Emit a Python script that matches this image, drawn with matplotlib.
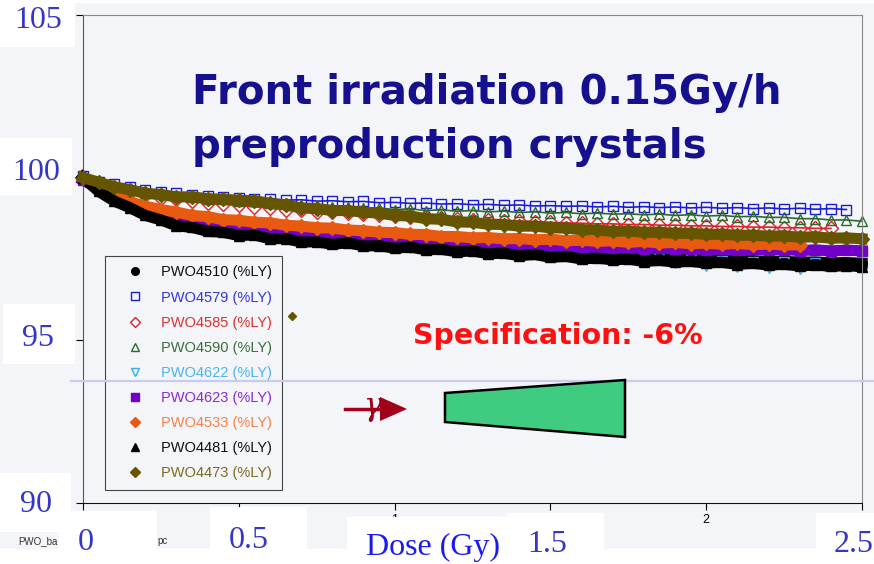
import matplotlib
matplotlib.use("Agg")
import matplotlib.pyplot as plt
from matplotlib.lines import Line2D
from matplotlib.patches import Rectangle, Polygon

# measured light yield (% of initial) vs accumulated dose, front irradiation 0.15 Gy/h
dose = [0.00, 0.05, 0.10, 0.15, 0.20, 0.25, 0.30, 0.35, 0.40, 0.45,
        0.50, 0.55, 0.60, 0.65, 0.70, 0.75, 0.80, 0.85, 0.90, 0.95,
        1.00, 1.05, 1.10, 1.15, 1.20, 1.25, 1.30, 1.35, 1.40, 1.45,
        1.50, 1.55, 1.60, 1.65, 1.70, 1.75, 1.80, 1.85, 1.90, 1.95,
        2.00, 2.05, 2.10, 2.15, 2.20, 2.25, 2.30, 2.35, 2.40, 2.45,
        2.50]

ly_4510 = [100.02, 99.62, 99.33, 99.12, 98.90, 98.76, 98.60, 98.53, 98.43, 98.38,
           98.30, 98.28, 98.20, 98.18, 98.10, 98.09, 98.03, 98.04, 97.97, 97.98,
           97.92, 97.92, 97.86, 97.87, 97.81, 97.82, 97.76, 97.76, 97.71, 97.71,
           97.66, 97.66, 97.61, 97.62, 97.57, 97.58, 97.53, 97.54, 97.50, 97.51,
           97.47, 97.48, 97.44, 97.45, 97.42, 97.43, 97.40, 97.41, 97.38, 97.39,
           97.37]
ly_4579 = [100.05, 99.86, 99.80, 99.70, 99.62, 99.55, 99.52, 99.46, 99.44, 99.40,
           99.38, 99.35, 99.35, 99.31, 99.32, 99.28, 99.29, 99.26, 99.27, 99.23,
           99.24, 99.21, 99.22, 99.19, 99.20, 99.17, 99.18, 99.15, 99.16, 99.13,
           99.14, 99.12, 99.13, 99.10, 99.12, 99.09, 99.11, 99.08, 99.10, 99.07,
           99.09, 99.06, 99.08, 99.05, 99.07, 99.04, 99.06, 99.03, 99.05, 99.02]
ly_4585 = [100.00, 99.80, 99.66, 99.55, 99.46, 99.38, 99.33, 99.27, 99.23, 99.18,
           99.15, 99.10, 99.07, 99.02, 99.00, 98.96, 98.94, 98.90, 98.89, 98.85,
           98.83, 98.80, 98.78, 98.75, 98.74, 98.71, 98.70, 98.67, 98.67, 98.64,
           98.63, 98.61, 98.60, 98.58, 98.58, 98.56, 98.56, 98.54, 98.54, 98.52,
           98.52, 98.50, 98.50, 98.48, 98.48, 98.46, 98.46, 98.44, 98.44]
ly_4590 = [100.00, 99.83, 99.69, 99.64, 99.54, 99.52, 99.44, 99.42, 99.35, 99.34,
           99.27, 99.27, 99.21, 99.21, 99.15, 99.15, 99.10, 99.11, 99.06, 99.07,
           99.02, 99.04, 98.99, 99.01, 98.97, 98.99, 98.95, 98.97, 98.93, 98.95,
           98.91, 98.93, 98.89, 98.91, 98.88, 98.89, 98.86, 98.88, 98.84, 98.86,
           98.82, 98.84, 98.80, 98.81, 98.78, 98.78, 98.74, 98.74, 98.70, 98.70,
           98.66]
ly_4622 = [99.95, 99.60, 99.32, 99.10, 98.90, 98.74, 98.58, 98.50, 98.42, 98.36,
           98.30, 98.26, 98.20, 98.15, 98.10, 98.05, 98.02, 97.98, 97.94, 97.90,
           97.86, 97.83, 97.78, 97.80, 97.70, 97.74, 97.65, 97.70, 97.60, 97.66,
           97.58, 97.62, 97.52, 97.60, 97.48, 97.55, 97.40, 97.52, 97.38, 97.50,
           97.30, 97.45, 97.25, 97.42, 97.22, 97.40, 97.20, 97.38]
ly_4623 = [99.92, 99.68, 99.42, 99.22, 99.00, 98.84, 98.68, 98.62, 98.50, 98.47,
           98.38, 98.36, 98.28, 98.28, 98.20, 98.20, 98.13, 98.14, 98.08, 98.10,
           98.03, 98.05, 97.98, 98.00, 97.95, 97.97, 97.92, 97.94, 97.89, 97.91,
           97.87, 97.89, 97.85, 97.87, 97.84, 97.85, 97.82, 97.84, 97.81, 97.82,
           97.79, 97.81, 97.78, 97.80, 97.77, 97.79, 97.76, 97.78, 97.75, 97.77,
           97.75]
ly_4533 = [100.00, 99.74, 99.46, 99.26, 99.12, 99.02, 98.94, 98.84, 98.80, 98.71,
           98.69, 98.63, 98.61, 98.54, 98.51, 98.46, 98.45, 98.39, 98.37, 98.32,
           98.31, 98.26, 98.25, 98.19, 98.19, 98.15, 98.16, 98.12, 98.13, 98.09,
           98.11, 98.06, 98.08, 98.04, 98.06, 98.01, 98.04, 97.99, 98.01, 97.97,
           97.99, 97.95, 97.98, 97.94, 97.96, 97.93, 97.94]
ly_4481 = [100.00, 99.58, 99.28, 99.08, 98.84, 98.70, 98.52, 98.47, 98.35, 98.32,
           98.22, 98.24, 98.12, 98.13, 98.02, 98.03, 97.95, 98.00, 97.90, 97.91,
           97.83, 97.87, 97.78, 97.80, 97.72, 97.75, 97.66, 97.68, 97.60, 97.64,
           97.55, 97.58, 97.50, 97.53, 97.47, 97.50, 97.42, 97.46, 97.40, 97.43,
           97.37, 97.40, 97.33, 97.37, 97.31, 97.34, 97.28, 97.32, 97.27, 97.30,
           97.26]
ly_4473 = [100.00, 99.86, 99.72, 99.63, 99.52, 99.48, 99.41, 99.41, 99.35, 99.34,
           99.30, 99.29, 99.21, 99.16, 99.07, 99.05, 98.99, 98.99, 98.94, 98.91,
           98.84, 98.82, 98.74, 98.72, 98.64, 98.63, 98.57, 98.56, 98.51, 98.51,
           98.46, 98.45, 98.40, 98.39, 98.35, 98.36, 98.32, 98.32, 98.29, 98.29,
           98.26, 98.26, 98.23, 98.23, 98.20, 98.21, 98.17, 98.18, 98.14, 98.15,
           98.12]
# one stray reading of PWO4473
outlier_dose = [0.67]
outlier_ly = [95.75]

# name, values, marker, colour, legend text colour, filled
series = [
    ("PWO4510 (%LY)", ly_4510, "o", "#000000", "#111111", True),
    ("PWO4579 (%LY)", ly_4579, "s", "#1c1cd8", "#3535e0", False),
    ("PWO4585 (%LY)", ly_4585, "D", "#e0202a", "#e03030", False),
    ("PWO4590 (%LY)", ly_4590, "^", "#2c6a2c", "#3b6e3b", False),
    ("PWO4622 (%LY)", ly_4622, "v", "#3aaee8", "#4ab4ee", False),
    ("PWO4623 (%LY)", ly_4623, "s", "#7200c8", "#8a2ad8", True),
    ("PWO4533 (%LY)", ly_4533, "D", "#e85a10", "#f5824a", True),
    ("PWO4481 (%LY)", ly_4481, "^", "#000000", "#111111", True),
    ("PWO4473 (%LY)", ly_4473, "D", "#665500", "#7a6a22", True),
]

W, H = 874, 564
BG = "#f4f5f8"


def fx(x):
    return x / W


def fy(y):
    return 1 - y / H


fig = plt.figure(figsize=(W / 100, H / 100), dpi=100, facecolor="white")

# grey backdrop of the pasted plot
fig.add_artist(Rectangle((0, fy(549)), 1, fy(3) - fy(549), transform=fig.transFigure,
                         facecolor=BG, edgecolor="none", zorder=-10))

ax = fig.add_axes([fx(83), fy(503), fx(862) - fx(83), fy(15) - fy(503)])
ax.set_facecolor(BG)
ax.set_xlim(0, 2.5)
ax.set_ylim(90, 105)

handles = []
for name, vals, mk, col, tcol, filled in series:
    xs = dose[:len(vals)]
    if filled:
        ax.plot(xs, vals, color=col, lw=8, marker=mk, ms=7, mfc=col, mec=col,
                clip_on=False)
    else:
        ax.plot(xs, vals, color=col, lw=1.2, marker=mk, ms=7, mfc="none", mec=col,
                mew=1.0, clip_on=False)
    handles.append(Line2D([], [], ls="none", marker=mk, ms=5.5,
                          mfc=col if filled else "none", mec=col))

ax.plot(outlier_dose, outlier_ly, ls="none", marker="D", ms=4, color="#665500")

ax.set_xticks([0, 0.5, 1, 1.5, 2, 2.5])
ax.set_xticklabels(["0", "0.5", "1", "1.5", "2", "2.5"], family="Liberation Sans")
ax.set_yticks([90, 95, 100, 105])
ax.set_yticklabels([])
ax.tick_params(direction="out", length=5, width=0.8, labelsize=9, pad=3)
ax.spines["left"].set_color("#555555")
ax.spines["bottom"].set_color("#111111")
ax.spines["top"].set_color("#888888")
ax.spines["right"].set_color("#888888")

leg = ax.legend(handles, [s[0] for s in series], loc="upper left",
                bbox_to_anchor=(fx(105), fy(256)), bbox_transform=fig.transFigure,
                borderaxespad=0, frameon=True, fancybox=False, framealpha=1,
                facecolor=BG, edgecolor="#444444",
                prop={"family": "Liberation Sans", "size": 10.5},
                labelcolor=[s[4] for s in series],
                labelspacing=0.76, handlelength=2.8, handletextpad=0.4,
                borderpad=0.65)
leg.get_frame().set_linewidth(0.8)

# title and specification note
fig.text(fx(192), fy(93), "Front irradiation 0.15Gy/h", color="#16108f",
         fontsize=29, fontweight="bold", family="DejaVu Sans", va="center")
fig.text(fx(192), fy(147), "preproduction crystals", color="#16108f",
         fontsize=29, fontweight="bold", family="DejaVu Sans", va="center")
fig.text(fx(413), fy(336), "Specification: -6%", color="#ff1010",
         fontsize=20.5, fontweight="bold", family="DejaVu Sans", va="center")

# spec level line across the plot
fig.add_artist(Line2D([fx(71), 1], [fy(381), fy(381)], transform=fig.transFigure,
                      color="#c8cbf2", lw=1.6, zorder=10))

# gamma beam arrow and crystal sketch
fig.add_artist(Line2D([fx(345), fx(385)], [fy(409), fy(409)], transform=fig.transFigure,
                      color="#a0001a", lw=2.5, zorder=10))
fig.add_artist(Polygon([[fx(380), fy(397)], [fx(407), fy(409)], [fx(380), fy(421)]],
                       closed=True, transform=fig.transFigure, facecolor="#a0001a",
                       edgecolor="none", zorder=10))
fig.text(fx(372), fy(407), "γ", color="#a0001a", fontsize=22, family="DejaVu Serif",
         style="italic", ha="center", va="center", zorder=11)
fig.add_artist(Polygon([[fx(445), fy(393)], [fx(625), fy(380)], [fx(625), fy(437)],
                        [fx(445), fy(422)]], closed=True, transform=fig.transFigure,
                       facecolor="#3fcc80", edgecolor="black", lw=1.8, zorder=10))

# file name footnote of the pasted plot
fig.text(fx(18), fy(541), "PWO_ba", fontsize=7, color="#333333",
         family="Liberation Sans", va="center", zorder=5)
fig.text(fx(157), fy(541), "pc", fontsize=7, color="#333333",
         family="Liberation Sans", va="center", zorder=5)

# white label boxes with large axis numbers
boxes = [
    (0, 0, 75, 47, "105", 38, 21, "#3535c8"),
    (0, 138, 72, 195, "100", 36, 172, "#3535c8"),
    (3, 304, 75, 364, "95", 38, 338, "#3535c8"),
    (0, 473, 71, 532, "90", 36, 505, "#3535c8"),
    (59, 511, 157, 564, "0", 86, 543, "#3535c8"),
    (210, 507, 307, 564, "0.5", 249, 540, "#3535c8"),
    (347, 517, 507, 564, "Dose (Gy)", 433, 547, "#1a1af0"),
    (507, 513, 604, 564, "1.5", 547, 545, "#3535c8"),
    (816, 513, 874, 564, "2.5", 854, 544, "#3535c8"),
]
for x0, y0, x1, y1, label, tx, ty, tc in boxes:
    fig.add_artist(Rectangle((fx(x0), fy(y1)), fx(x1) - fx(x0), fy(y0) - fy(y1),
                             transform=fig.transFigure, facecolor="white",
                             edgecolor="none", zorder=20))
    fig.text(fx(tx), fy(ty), label, color=tc, fontsize=23, family="Liberation Serif",
             ha="center", va="center", zorder=21)

fig.savefig("out.png", dpi=100, facecolor="white")
